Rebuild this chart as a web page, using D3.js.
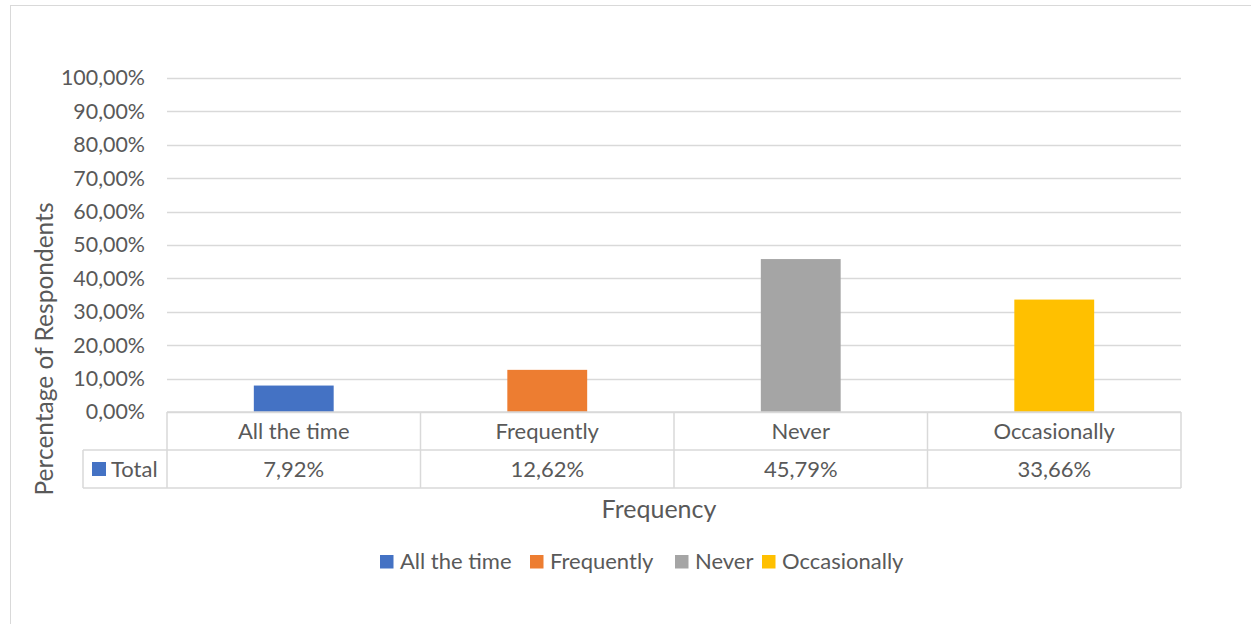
<!DOCTYPE html>
<html>
<head>
<meta charset="utf-8">
<script src="https://cdn.jsdelivr.net/npm/d3@7"></script>
<style>
  body { margin: 0; background: #fff; }
  text { font-family: Lato, "Open Sans", sans-serif; fill: #595959; }
</style>
</head>
<body>
<svg id="chart" width="1251" height="624"></svg>
<script>
    // data
    var categories = ["All the time", "Frequently", "Never", "Occasionally"];
    var values = [7.92, 12.62, 45.79, 33.66];
    var colors = ["#4472c4", "#ed7d31", "#a5a5a5", "#ffc000"];
    var yTicks = [0, 10, 20, 30, 40, 50, 60, 70, 80, 90, 100];
    var seriesName = "Total";

    var svg = d3.select("#chart"),
        width = +svg.attr("width"),
        height = +svg.attr("height");

    var fmt = function (v) { return v.toFixed(2).replace(".", ",") + "%"; };

    // outer chart border
    svg.append("rect")
        .attr("x", 10.5).attr("y", 5.5)
        .attr("width", 1260).attr("height", 640)
        .attr("fill", "#fff")
        .attr("stroke", "#d9d9d9");

    var plot = {left: 167, right: 1181, top: 78, bottom: 412};
    var rowH = 38;

    var x = d3.scaleBand()
        .domain(categories)
        .range([plot.left, plot.right])
        .paddingInner(0.685)
        .paddingOuter(0.3425);

    var xCells = d3.scaleBand()
        .domain(categories)
        .range([plot.left, plot.right]);

    var y = d3.scaleLinear()
        .domain([0, 100])
        .range([plot.bottom, plot.top]);

    // gridlines
    svg.append("g")
        .selectAll("line")
        .data(yTicks)
        .enter()
        .append("line")
        .attr("x1", plot.left).attr("x2", plot.right)
        .attr("y1", function (d) { return Math.round(y(d)) + 0.5; })
        .attr("y2", function (d) { return Math.round(y(d)) + 0.5; })
        .attr("stroke", "#d9d9d9")
        .attr("stroke-width", 1.3);

    // y axis labels
    svg.append("g")
        .selectAll("text")
        .data(yTicks)
        .enter()
        .append("text")
        .attr("x", 145)
        .attr("y", function (d) { return y(d); })
        .attr("dy", "0.35em")
        .attr("text-anchor", "end")
        .style("font-size", "21.4px")
        .text(function (d) { return fmt(d); });

    // bars
    svg.append("g")
        .selectAll("rect")
        .data(values)
        .enter()
        .append("rect")
        .attr("x", function (d, i) { return x(categories[i]); })
        .attr("width", x.bandwidth())
        .attr("y", function (d) { return y(d); })
        .attr("height", function (d) { return y(0) - y(d); })
        .attr("fill", function (d, i) { return colors[i]; });

    // data table
    var table = svg.append("g")
        .attr("stroke", "#d9d9d9")
        .attr("stroke-width", 1.5)
        .attr("fill", "none");

    table.append("line").attr("x1", plot.left).attr("x2", plot.right)
        .attr("y1", plot.bottom).attr("y2", plot.bottom);
    table.append("line").attr("x1", 83).attr("x2", plot.right)
        .attr("y1", plot.bottom + rowH).attr("y2", plot.bottom + rowH);
    table.append("line").attr("x1", 83).attr("x2", plot.right)
        .attr("y1", plot.bottom + 2 * rowH).attr("y2", plot.bottom + 2 * rowH);
    var vx = categories.map(function (c) { return xCells(c); }).concat([plot.right]);
    table.selectAll(".vline")
        .data(vx)
        .enter()
        .append("line")
        .attr("x1", function (d) { return d; }).attr("x2", function (d) { return d; })
        .attr("y1", plot.bottom).attr("y2", plot.bottom + 2 * rowH);
    table.append("line").attr("x1", 83).attr("x2", 83)
        .attr("y1", plot.bottom + rowH).attr("y2", plot.bottom + 2 * rowH);

    // category labels & values
    svg.append("g")
        .selectAll("text")
        .data(categories)
        .enter()
        .append("text")
        .attr("x", function (d) { return xCells(d) + xCells.bandwidth() / 2; })
        .attr("y", plot.bottom + rowH / 2)
        .attr("dy", "0.35em")
        .attr("text-anchor", "middle")
        .style("font-size", "22px")
        .text(function (d) { return d; });

    svg.append("g")
        .selectAll("text")
        .data(values)
        .enter()
        .append("text")
        .attr("x", function (d, i) { return xCells(categories[i]) + xCells.bandwidth() / 2; })
        .attr("y", plot.bottom + rowH * 1.5)
        .attr("dy", "0.35em")
        .attr("text-anchor", "middle")
        .style("font-size", "22px")
        .text(function (d) { return fmt(d); });

    // series key in the table
    svg.append("rect")
        .attr("x", 92).attr("y", 462).attr("width", 14).attr("height", 14)
        .attr("fill", colors[0]);
    svg.append("text")
        .attr("x", 111).attr("y", plot.bottom + rowH * 1.5)
        .attr("dy", "0.35em")
        .style("font-size", "22px")
        .text(seriesName);

    // axis titles
    svg.append("text")
        .attr("transform", "translate(53,349) rotate(-90)")
        .attr("text-anchor", "middle")
        .style("font-size", "24.5px")
        .text("Percentage of Respondents");

    svg.append("text")
        .attr("x", 659).attr("y", 518)
        .attr("text-anchor", "middle")
        .style("font-size", "25px")
        .text("Frequency");

    // legend
    var legendX = [380, 530, 675, 762];
    var legend = svg.append("g")
        .selectAll("g")
        .data(categories)
        .enter()
        .append("g")
        .attr("transform", function (d, i) { return "translate(" + legendX[i] + ",555)"; });
    legend.append("rect")
        .attr("width", 13.5).attr("height", 13.5)
        .attr("fill", function (d, i) { return colors[i]; });
    legend.append("text")
        .attr("x", 20).attr("y", 6.5)
        .attr("dy", "0.35em")
        .style("font-size", "22px")
        .text(function (d) { return d; });
</script>
</body>
</html>
